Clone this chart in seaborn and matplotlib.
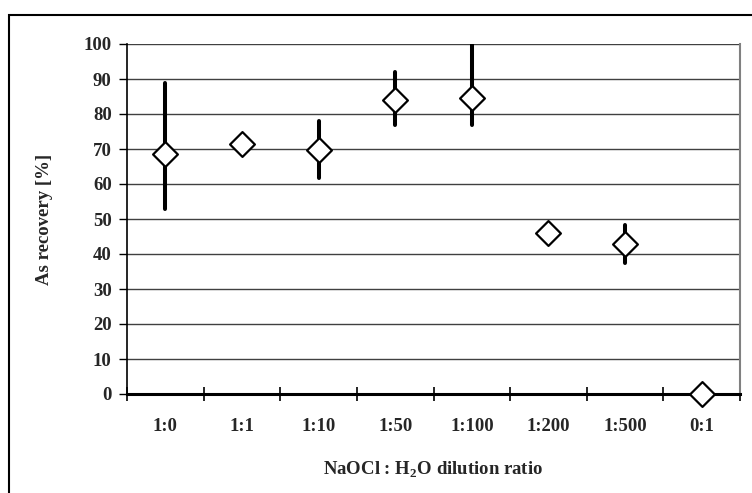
import matplotlib
matplotlib.use("Agg")
import matplotlib.pyplot as plt
import seaborn as sns
import pandas as pd
from matplotlib.patches import Rectangle

categories = ["1:0", "1:1", "1:10", "1:50", "1:100", "1:200", "1:500", "0:1"]
recovery = [68.5, 71.5, 69.8, 84.0, 84.5, 45.9, 43.0, 0.0]
err_low = [53.0, 71.5, 61.7, 77.0, 77.0, 45.9, 37.5, 0.0]
err_high = [89.0, 71.5, 78.0, 92.0, 100.0, 45.9, 48.3, 0.0]
yticks = [0, 10, 20, 30, 40, 50, 60, 70, 80, 90, 100]

sns.set_theme(style="white")
plt.rcParams['font.family'] = ['Liberation Serif', 'DejaVu Serif']
plt.rcParams['font.weight'] = 'bold'
plt.rcParams['mathtext.fontset'] = 'custom'
plt.rcParams['mathtext.rm'] = 'Liberation Serif:bold'
plt.rcParams['mathtext.bf'] = 'Liberation Serif:bold'

df = pd.DataFrame({"ratio": categories, "recovery": recovery,
                   "lo": err_low, "hi": err_high})

fig = plt.figure(figsize=(7.52, 4.93), dpi=100)
ax = fig.add_axes([127/752, 99/493, 613/752, 350/493])

# error bars
pos = list(range(len(categories)))
ax.vlines(pos, df["lo"], df["hi"], colors="black", linewidth=2.9, zorder=3,
          capstyle="round")

sns.scatterplot(data=df, x="ratio", y="recovery", marker="D", s=160,
                facecolor="white", edgecolor="black", linewidth=1.6,
                zorder=5, clip_on=False, ax=ax)

ax.set_xlim(-0.5, len(categories) - 0.5)
ax.set_ylim(0, 100)
ax.set_yticks(yticks)
ax.set_yticklabels([str(t) for t in yticks], fontsize=13.5, fontweight='bold')

# category boundaries as major ticks, labels on minor ticks
ax.set_xticks([i - 0.5 for i in range(len(categories) + 1)])
ax.set_xticklabels([])
ax.set_xticks(pos, minor=True)
ax.set_xticklabels(categories, minor=True, fontsize=13.5, fontweight='bold')
ax.tick_params(axis='x', which='major', direction='inout', length=10,
               width=1.2, color='black', bottom=True)
ax.tick_params(axis='x', which='minor', length=0, pad=17)
ax.tick_params(axis='y', which='major', direction='out', length=6,
               width=1.0, color='black', left=True, pad=5)

ax.grid(axis='y', color='#404040', linewidth=1.0)
ax.set_axisbelow(True)

ax.spines['top'].set_visible(False)
ax.spines['right'].set_color('#808080')
ax.spines['right'].set_linewidth(1.5)
ax.spines['left'].set_color('black')
ax.spines['left'].set_linewidth(1.2)
ax.spines['bottom'].set_color('black')
ax.spines['bottom'].set_linewidth(2.2)
ax.spines['bottom'].set_zorder(4)

ax.set_xlabel(r"NaOCl : H$_{2}$O dilution ratio", fontsize=13.5,
              fontweight='bold', labelpad=18)
ax.set_ylabel("As recovery [%]", fontsize=13.5, fontweight='bold', labelpad=22)

# figure border (chart area frame)
fig.patches.append(Rectangle((9/752, -0.05), 1.0, 1.0 - 15/493 + 0.05,
                             transform=fig.transFigure, fill=False,
                             edgecolor='black', linewidth=1.5))

fig.savefig("out.png", dpi=100)
